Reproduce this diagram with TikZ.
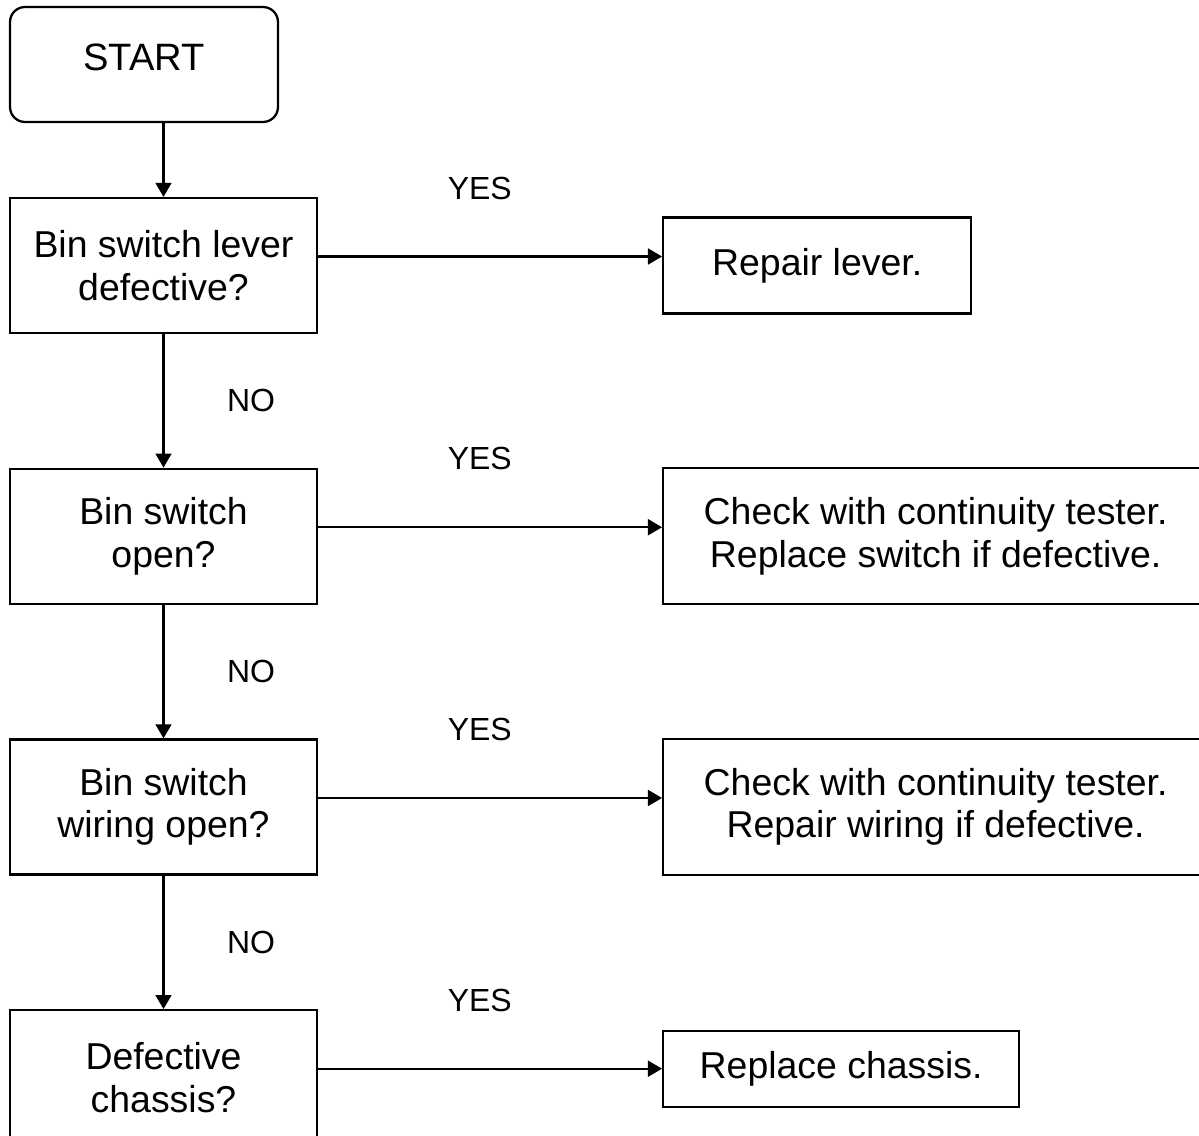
\documentclass[tikz,border=0pt]{standalone}
\usepackage{fontspec}
\setmainfont{Liberation Sans}
\usetikzlibrary{arrows.meta, positioning}
\newcommand{\flowfont}{\fontsize{21.3}{24.2}\selectfont}
\newcommand{\lblfont}{\fontsize{18.2}{21}\selectfont}
\tikzset{
  startbox/.style={draw, rounded corners=0.3cm, minimum width=5.36cm, minimum height=2.3cm, text depth=0.3cm, font=\fontsize{21.7}{25}\selectfont},
  qbox/.style={draw, minimum width=6.14cm, minimum height=2.7cm, align=center, font=\flowfont},
  abox/.style={draw, align=center, font=\flowfont},
  arr/.style={-{Triangle[length=8pt, width=9pt]}},
  lbl/.style={inner sep=0pt, font=\lblfont},
}

\begin{document}
\begin{tikzpicture}[x=0.02cm, y=-0.02cm, line width=1.3pt, node distance=2.67cm]
    \useasboundingbox (0,0) rectangle (1199,1135);
    % left column: the questions
    \node[startbox] (start) at (144,64.5) {START};
    \node[qbox] (q1) at (163.5,265.5) {Bin switch lever\\defective?};
    \node[qbox, below=of q1] (q2) {Bin switch\\open?};
    \node[qbox, below=of q2] (q3) {Bin switch\\wiring open?};
    \node[qbox, below=of q3] (q4) {Defective\\chassis?};
    % right column: the actions
    \node[abox, minimum width=6.16cm, minimum height=1.92cm, right=6.88cm of q1] (r1) {Repair lever.};
    \node[abox, minimum width=10.9cm, minimum height=2.72cm, right=6.88cm of q2] (r2) {Check with continuity tester.\\Replace switch if defective.};
    \node[abox, minimum width=10.9cm, minimum height=2.72cm, right=6.88cm of q3] (r3) {Check with continuity tester.\\Repair wiring if defective.};
    \node[abox, minimum width=7.12cm, minimum height=1.52cm, right=6.88cm of q4, yshift=0.18cm] (r4) {Replace chassis.};
    \draw[arr] (start.south -| q1.north) -- (q1.north);
    \draw[arr] (q1) -- node[lbl, right=1.25cm] {NO} (q2);
    \draw[arr] (q2) -- node[lbl, right=1.25cm] {NO} (q3);
    \draw[arr] (q3) -- node[lbl, right=1.25cm] {NO} (q4);
    \draw[arr] ([yshift=0.18cm]q1.east) -- node[lbl, pos=0.47, above=1.12cm] {YES} ([yshift=0.18cm]q1.east -| r1.west);
    \draw[arr] ([yshift=0.18cm]q2.east) -- node[lbl, pos=0.47, above=1.12cm] {YES} ([yshift=0.18cm]q2.east -| r2.west);
    \draw[arr] ([yshift=0.18cm]q3.east) -- node[lbl, pos=0.47, above=1.12cm] {YES} ([yshift=0.18cm]q3.east -| r3.west);
    \draw[arr] ([yshift=0.18cm]q4.east) -- node[lbl, pos=0.47, above=1.12cm] {YES} ([yshift=0.18cm]q4.east -| r4.west);
\end{tikzpicture}
\end{document}
